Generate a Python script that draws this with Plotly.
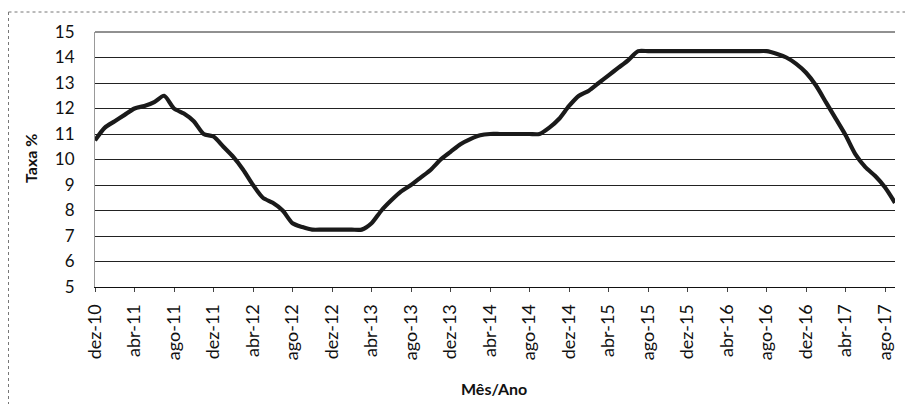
import plotly.graph_objects as go

month_abbr = ["jan", "fev", "mar", "abr", "mai", "jun", "jul", "ago", "set", "out", "nov", "dez"]

# Months from dez-10 to set-17
months = ["dez-10"]
for yr in range(11, 18):
    for m in month_abbr:
        months.append(f"{m}-{yr}")
months = months[:82]

taxa = [
    10.75, 11.25, 11.5, 11.75, 12.0, 12.1, 12.25, 12.5, 12.0, 11.8, 11.5, 11.0,      # dez-10 .. nov-11
    10.9, 10.5, 10.1, 9.6, 9.0, 8.5, 8.3, 8.0, 7.5, 7.35, 7.25, 7.25,              # dez-11 .. nov-12
    7.25, 7.25, 7.25, 7.25, 7.5, 8.0, 8.4, 8.75, 9.0, 9.3, 9.6, 10.0,             # dez-12 .. nov-13
    10.3, 10.6, 10.8, 10.95, 11.0, 11.0, 11.0, 11.0, 11.0, 11.0, 11.25, 11.6,     # dez-13 .. nov-14
    12.1, 12.5, 12.7, 13.0, 13.3, 13.6, 13.9, 14.25, 14.25, 14.25, 14.25, 14.25,  # dez-14 .. nov-15
    14.25, 14.25, 14.25, 14.25, 14.25, 14.25, 14.25, 14.25, 14.25, 14.15, 14.0, 13.75,  # dez-15 .. nov-16
    13.4, 12.9, 12.25, 11.6, 10.95, 10.2, 9.7, 9.35, 8.9, 8.3,                    # dez-16 .. set-17
]

tick_labels = months[::4]
y_ticks = list(range(5, 16))

fig = go.Figure()
fig.add_trace(go.Scatter(
    x=months, y=taxa, mode="lines",
    line=dict(color="#1a1a1a", width=4.2, shape="spline", smoothing=0.7),
    showlegend=False, hoverinfo="skip",
))

OFF = 8  # page body margin
L, R, T, B = 95 - OFF, 18, 32 - OFF, 117
W, H = 913 - OFF, 404 - OFF
pw, ph = W - L - R, H - T - B

def px(xpix):  # screen pixel -> paper
    return (xpix - OFF - L) / pw

def py(ypix):
    return (H - B - (ypix - OFF)) / ph

font_family = "Lato, 'Open Sans', sans-serif"

fig.update_layout(
    width=W, height=H,
    margin=dict(l=L, r=R, t=T, b=B, pad=0),
    paper_bgcolor="white", plot_bgcolor="white",
    font=dict(family=font_family, color="#111"),
    xaxis=dict(
        type="category", categoryorder="array", categoryarray=months,
        range=[0, len(months) - 1],
        tickmode="array", tickvals=tick_labels, ticktext=tick_labels,
        tickangle=-90, tickfont=dict(size=18, color="#111"),
        ticks="outside", ticklen=4, tickcolor="#444", tickwidth=1,
        ticklabelstandoff=5,
        showgrid=False, showline=True, linecolor="#111", linewidth=1,
        zeroline=False,
    ),
    yaxis=dict(
        range=[5, 15], tickmode="array", tickvals=y_ticks,
        tickfont=dict(size=17, color="#111"),
        ticks="", ticklabelstandoff=16,
        showgrid=True, gridcolor="#222", gridwidth=1,
        showline=True, linecolor="#999", linewidth=1,
        zeroline=False,
    ),
    annotations=[
        dict(text="<b>Taxa %</b>", x=px(30), y=py(159), xref="paper", yref="paper",
             textangle=-90, showarrow=False, xanchor="center", yanchor="middle",
             font=dict(size=16, family=font_family, color="#111")),
        dict(text="<b>Mês/Ano</b>", x=px(494), y=py(388), xref="paper", yref="paper",
             showarrow=False, xanchor="center", yanchor="middle",
             font=dict(size=16, family=font_family, color="#111")),
    ],
    shapes=[
        dict(type="line", xref="paper", yref="paper", x0=px(8.5), x1=px(913), y0=py(12), y1=py(12),
             line=dict(color="#777", width=1, dash="dot")),
        dict(type="line", xref="paper", yref="paper", x0=px(8.5), x1=px(8.5), y0=py(12), y1=py(404),
             line=dict(color="#777", width=1, dash="dot")),
        dict(type="line", xref="paper", yref="paper", x0=0, x1=1, y0=1, y1=1,
             line=dict(color="#222", width=1)),
    ],
)

fig.write_html("out.html")
